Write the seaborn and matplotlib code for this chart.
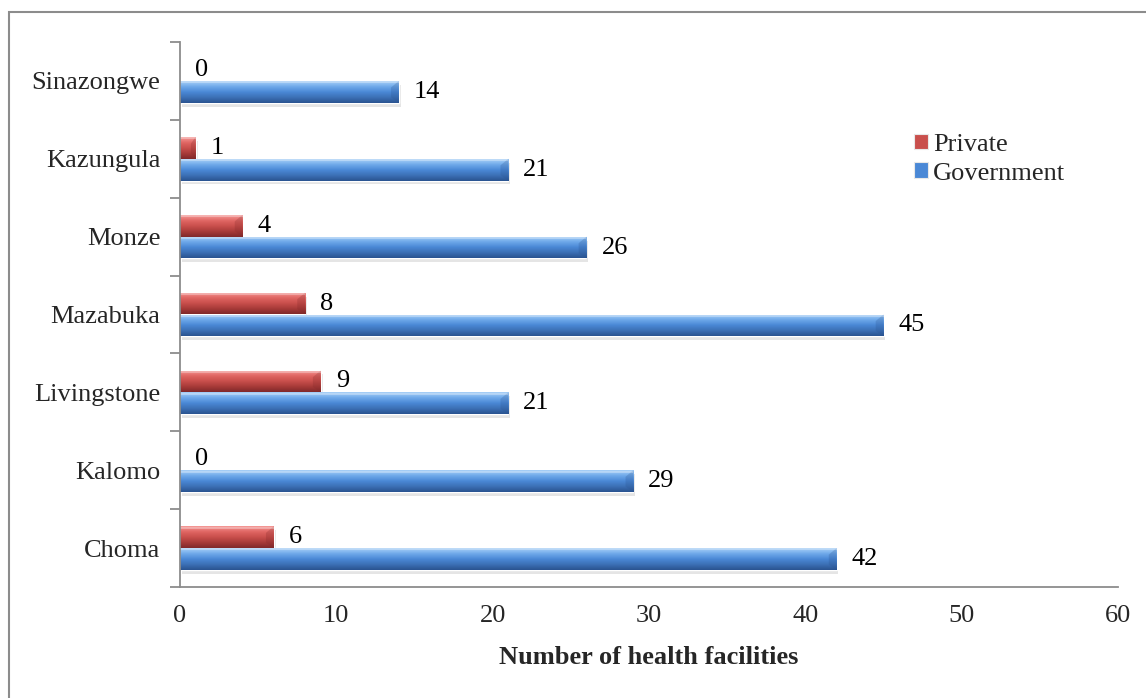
import numpy as np
import pandas as pd
import matplotlib
matplotlib.use("Agg")
import matplotlib.pyplot as plt
from matplotlib.colors import LinearSegmentedColormap
from matplotlib.patches import Rectangle, Polygon
from matplotlib.ticker import FixedLocator
import seaborn as sns

districts = ["Sinazongwe", "Kazungula", "Monze", "Mazabuka", "Livingstone", "Kalomo", "Choma"]
private = [0, 1, 4, 8, 9, 0, 6]
government = [14, 21, 26, 45, 21, 29, 42]
x_ticks = [0, 10, 20, 30, 40, 50, 60]

df = pd.DataFrame({
    "District": districts * 2,
    "Facilities": private + government,
    "Ownership": ["Private"] * len(districts) + ["Government"] * len(districts),
})

sns.set_theme(style="white")
plt.rcParams["font.family"] = ["Liberation Serif", "DejaVu Serif"]

palette = {"Private": "#C0504D", "Government": "#4F81BD"}
shades = {
    "Private": ["#F59A98", "#E06663", "#C94F4C", "#A83B39", "#80292A"],
    "Government": ["#A8D0F7", "#6FA9EA", "#4A88D6", "#3C70B5", "#2A5390"],
}

fig = plt.figure(figsize=(11.46, 6.98), dpi=100)
ax = fig.add_axes([180 / 1146, 1 - 587 / 698, (1118 - 180) / 1146, (587 - 42) / 698])

sns.barplot(data=df, y="District", x="Facilities", hue="Ownership",
            hue_order=["Private", "Government"], order=districts,
            palette=palette, orient="h", width=0.56, saturation=1,
            ax=ax, legend=False)

ax.set_xlim(0, 60)
ax.set_ylim(len(districts) - 0.5, -0.5)

# shaded, bevelled look for every bar
groups = [("Private", private), ("Government", government)]
for container, (name, values) in zip(ax.containers, groups):
    cmap = LinearSegmentedColormap.from_list(name, shades[name])
    grad = np.linspace(0, 1, 64).reshape(-1, 1)
    dark = shades[name][-1]
    for bar, v in zip(container, values):
        x0, y0 = bar.get_x(), bar.get_y()
        w, h = bar.get_width(), bar.get_height()
        cy = y0 + h / 2
        if w > 0:
            # soft shadow beneath the bar
            ax.add_patch(Rectangle((x0 + 0.12, y0 + 0.05), w, h, facecolor="#000000",
                                   alpha=0.10, edgecolor="none", zorder=1.5))
            bar.set_zorder(2)
            img = ax.imshow(grad, extent=[x0, x0 + w, y0 + h, y0], aspect="auto",
                            cmap=cmap, zorder=2.1, interpolation="bicubic")
            img.set_clip_path(bar)
            # bevelled right end
            bev = min(0.5, w * 0.3)
            ax.add_patch(Polygon([[x0 + w, y0], [x0 + w - bev, y0 + h * 0.3],
                                  [x0 + w - bev, y0 + h * 0.75], [x0 + w, y0 + h]],
                                 closed=True, facecolor=dark, alpha=0.25,
                                 edgecolor="none", zorder=2.2))
            ax.plot([x0, x0 + w], [y0 + h * 0.06, y0 + h * 0.06], color="white",
                    alpha=0.35, lw=1.2, zorder=2.3, solid_capstyle="butt")
        ax.annotate(f"{v}", xy=(x0 + max(w, 0), cy), xytext=(15, 0),
                    textcoords="offset pixels",
                    ha="left", va="center", fontsize=19, color="black", zorder=3)

ax.set_xlim(0, 60)
ax.set_ylim(len(districts) - 0.5, -0.5)

# axes styling
for side in ["top", "right"]:
    ax.spines[side].set_visible(False)
for side in ["left", "bottom"]:
    ax.spines[side].set_color("#8C8C8C")
    ax.spines[side].set_linewidth(1.3)

ax.set_xticks(x_ticks)
ax.set_xticklabels([str(t) for t in x_ticks], fontsize=19)
ax.tick_params(axis="x", direction="out", length=6, width=1.3, color="#8C8C8C", pad=7)

boundaries = np.arange(len(districts) + 1) - 0.5
ax.yaxis.set_major_locator(FixedLocator(boundaries))
ax.yaxis.set_major_formatter(plt.NullFormatter())
ax.yaxis.set_minor_locator(FixedLocator(np.arange(len(districts))))
ax.set_yticklabels(districts, minor=True, fontsize=19)
ax.tick_params(axis="y", which="major", direction="out", length=7, width=1.3, color="#8C8C8C", left=True)
ax.tick_params(axis="y", which="minor", length=0, pad=14, left=True)

ax.set_ylabel("")
ax.set_xlabel("Number of health facilities", fontsize=19, fontweight="bold", labelpad=14)

# legend
handles = [Rectangle((0, 0), 1, 1, facecolor=shades["Private"][2], edgecolor="#E8E8E8", lw=0.8),
           Rectangle((0, 0), 1, 1, facecolor=shades["Government"][2], edgecolor="#E8E8E8", lw=0.8)]
fig.legend(handles, ["Private", "Government"], loc="upper left",
           bbox_to_anchor=(903 / 1146, 1 - 123 / 698), frameon=False, fontsize=19,
           handlelength=0.55, handleheight=0.55, handletextpad=0.2, labelspacing=0.25,
           borderaxespad=0)

# outer frame of the chart area
fig.patches.append(Rectangle((9 / 1146, -0.1), 1.2, 1 - 12 / 698 + 0.1,
                             transform=fig.transFigure, fill=False,
                             edgecolor="#8C8C8C", linewidth=1.5, zorder=0))

fig.savefig("out.png", dpi=100)
